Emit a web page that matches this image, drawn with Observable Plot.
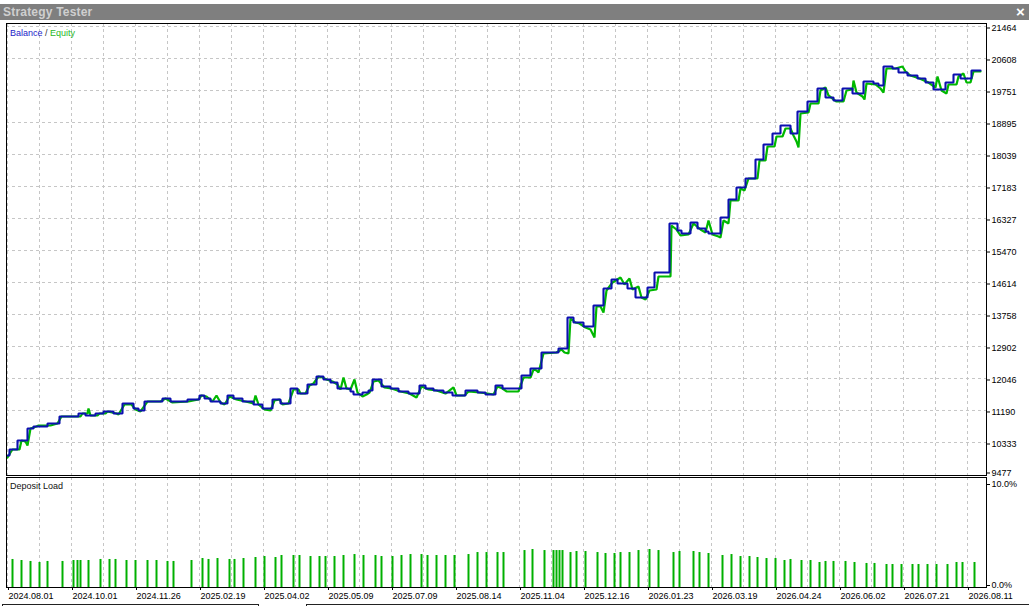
<!DOCTYPE html>
<html><head><meta charset="utf-8">
<script src="https://cdn.jsdelivr.net/npm/d3@7"></script>
<script src="https://cdn.jsdelivr.net/npm/@observablehq/plot@0.6"></script>
<style>
html,body{margin:0;padding:0;background:#fff;}
#wrap{position:relative;width:1029px;height:606px;overflow:hidden;font-family:"Liberation Sans",Arial,sans-serif;background:#fff;}
#titlebar{position:absolute;left:0;top:4px;width:1029px;height:16px;background:#7f7f7f;}
#titlebar .t{position:absolute;left:3px;top:0;font-weight:bold;font-size:12px;color:#cfcfcf;letter-spacing:0.2px;line-height:16px;}
#titlebar .x{position:absolute;left:1016px;top:-1px;color:#fff;font-weight:bold;font-size:15px;line-height:17px;}
#main{position:absolute;left:0;top:22px;}
#load{position:absolute;left:0;top:477px;}
.lbl{position:absolute;font-size:9px;line-height:10px;white-space:nowrap;}
.box{position:absolute;top:604px;height:6px;border:1px solid #222;border-bottom:none;}
</style>
</head><body>
<div id="wrap">
  <div id="titlebar"><span class="t">Strategy Tester</span><span class="x">×</span></div>
  <div id="main"></div>
  <div id="load"></div>
  <div class="lbl" style="left:10px;top:28px;"><span style="color:#2323c8">Balance</span><span style="color:#333"> / </span><span style="color:#1fb81f">Equity</span></div>
  <div class="lbl" style="left:10px;top:481px;color:#111;">Deposit Load</div>
  <div class="box" style="left:2px;width:255px;"></div>
  <div class="box" style="left:306px;width:730px;"></div>
</div>
<script>
// x = deal position index, y = account value
const yTicks = [9477, 10333, 11190, 12046, 12902, 13758, 14614, 15470, 16327, 17183, 18039, 18895, 19751, 20608, 21464];
const xTicks = [0, 32, 64, 96, 128, 160, 192, 224, 256, 288, 320, 352, 384, 416, 448, 480];
const xLabels = ["2024.08.01","2024.10.01","2024.11.26","2025.02.19","2025.04.02","2025.05.09","2025.07.09","2025.08.14","2025.11.04","2025.12.16","2026.01.23","2026.03.19","2026.04.24","2026.06.02","2026.07.21","2026.08.11"];
const gridX = [0,16,32,48,64,80,96,112,128,144,160,176,192,208,224,240,256,272,288,304,320,336,352,368,384,400,416,432,448,464,480];

const balance = [
[0,9985],[1,10146],[5,10387],[10,10708],[13,10761],[20,10842],[26,11029],[35.5,11109],[39,11056],[44,11109],
[48,11163],[53,11109],[57.5,11377],[63,11243],[65.5,11189],[68.5,11430],[77.5,11510],[81.5,11430],[90,11484],[96,11591],
[98.5,11510],[101.5,11430],[106.5,11377],[110,11591],[113,11510],[117.5,11430],[123,11350],[127.5,11243],[132.5,11484],[136.5,11377],
[141.5,11778],[145,11644],[150,11885],[154.5,12099],[158,12019],[161.5,11939],[165,11778],[171.5,11698],[173,11617],[177.5,11671],
[180.5,11725],[182.5,12019],[187,11832],[191.5,11778],[195.5,11698],[200.5,11644],[206,11858],[209,11778],[213,11725],[218,11671],
[222.5,11591],[229,11725],[235,11671],[239,11617],[244,11858],[247.5,11778],[257,12126],[261.5,12313],[267,12741],[275.5,12848],
[280,13678],[283,13544],[288,13437],[293,13999],[298,14454],[302,14694],[305,14587],[310,14454],[314,14213],[320,14480],
[323.5,14882],[331,16193],[335,16005],[337,15925],[341.5,16220],[345,16059],[349,15979],[350.5,15925],[356.5,16353],[360.5,16835],
[364.5,17156],[369,17397],[374,17905],[378,18306],[382.5,18601],[386.5,18815],[391.5,18601],[395,19189],[400,19457],[405,19805],
[409,19564],[413,19484],[417.5,19805],[422.5,19671],[428,19992],[433,19939],[435.5,19885],[438,20393],[442.5,20340],[445.5,20233],
[450,20153],[455,20072],[459,19965],[463,19778],[469,19965],[473,20179],[476.5,20072],[482,20286],[486.5,20286]
];

const equity = [
[0,9932],[1.5,10066],[2.5,10146],[6,10146],[7,10387],[9,10360],[10,10253],[11.5,10708],[14.5,10761],[15.5,10788],
[21.5,10788],[25,10842],[27,11029],[36.5,11029],[37.5,11109],[40,11109],[40.5,11243],[41.5,11056],[45,11056],[46,11109],
[49,11109],[50,11163],[54.5,11109],[55.5,11082],[58.5,11350],[62,11350],[64,11216],[66.5,11163],[70,11430],[76.5,11430],
[79,11510],[82.5,11403],[90.5,11430],[95.5,11484],[97,11591],[99.5,11564],[102.5,11430],[104.5,11591],[106.5,11403],[108.5,11350],
[111,11564],[114.5,11484],[119,11430],[123,11377],[124,11591],[125.5,11350],[128.5,11216],[131.5,11189],[133.5,11457],[136,11484],
[137.5,11350],[140.5,11377],[143,11751],[145.5,11751],[146.5,11644],[149,11644],[151,11858],[153,11912],[155.5,12099],[157.5,12072],
[159.5,12019],[162.5,11965],[165,11885],[166.5,11751],[168,12072],[169.5,11778],[171.5,11751],[173.5,12019],[175,11671],[177.5,11564],
[179.5,11617],[181,11671],[183,11965],[185.5,11992],[188.5,11805],[192,11778],[196.5,11698],[201,11644],[204.5,11537],[207,11832],
[210.5,11751],[214.5,11725],[219,11644],[223,11805],[224.5,11591],[228.5,11591],[230.5,11698],[236,11671],[240,11644],[243,11617],
[245,11832],[247.5,11778],[249.5,11698],[255.5,11698],[258,12072],[261.5,12072],[263,12286],[264.5,12260],[265.5,12206],[268,12714],
[274.5,12741],[277,12822],[278.5,12741],[280.5,12714],[281.5,13651],[284,13544],[286,13517],[289,13410],[291.5,13357],[293.5,13143],
[294.5,13972],[296.5,13972],[298,13812],[299.5,14400],[302.5,14614],[306.5,14748],[308.5,14561],[311,14721],[312.5,14427],[315.5,14507],
[317,14213],[319,14159],[321,14400],[324.5,14427],[325.5,14775],[329.5,14775],[331.5,14775],[332,16139],[334.5,16032],[336.5,15872],
[340.5,15898],[343,16193],[346.5,16032],[349,15952],[350.5,16273],[352.5,15898],[355.5,15845],[356.5,15818],[358,16273],[360.5,16193],
[361.5,16808],[365.5,16808],[366.5,17129],[368.5,17076],[370.5,17397],[375,17397],[376,17878],[379,17878],[380,18253],[383.5,18253],
[384.5,18521],[387.5,18521],[389,18735],[391.5,18735],[393,18547],[394.5,18387],[395.5,18226],[396.5,19136],[400.5,19163],[401.5,19404],
[405.5,19404],[406.5,19751],[409,19832],[410.5,19618],[412.5,19537],[414.5,19457],[418,19457],[419.5,19751],[422.5,19778],[423,20019],
[424.5,19698],[427.5,19591],[428.5,19511],[429.5,19939],[434,19912],[436.5,19805],[438,19698],[439.5,20340],[444,20340],[447.5,20393],
[449,20260],[451.5,20153],[456,20072],[460.5,19965],[464,19832],[465,20126],[467,19751],[469.5,19671],[470.5,19912],[474.5,19912],
[475.5,20126],[478,20206],[479.5,19965],[481.5,19965],[483,20260],[486.5,20260]
];

// deposit load, percent
const depositLoad = [
[2.5,2.67],[7,2.57],[11.5,2.48],[16,2.38],[20,2.48],[27.5,2.48],[33,2.57],[35,2.57],[36.5,2.57],[40.5,2.57],
[46.5,2.67],[51,2.67],[54,2.67],[59.5,2.57],[64,2.57],[70,2.57],[74.5,2.57],[80,2.48],[83,2.48],[92,2.57],
[97.5,2.76],[100.5,2.67],[105,2.76],[111,2.67],[113.5,2.67],[118,2.76],[124,2.86],[128.5,2.95],[134,2.86],[137,3.05],
[143,3.05],[146,3.05],[151.5,2.95],[156,2.95],[159,2.95],[163.5,2.95],[168,3.05],[173.5,3.14],[178,3.05],[184,3.05],
[187,2.95],[192.5,2.95],[197,3.05],[201.5,3.14],[207,3.14],[210,3.05],[214.5,3.05],[219,3.05],[223.5,3.05],[230.5,3.14],
[235,3.33],[239.5,3.33],[245,3.33],[248,3.33],[258.5,3.52],[262.5,3.62],[268.5,3.52],[273,3.52],[274.5,3.52],[276,3.52],
[277.5,3.52],[281.5,3.33],[284.5,3.43],[289,3.43],[295,3.33],[299,3.24],[303.5,3.24],[306.5,3.33],[311,3.33],[315.5,3.52],
[321,3.62],[325.5,3.52],[333,3.33],[336,3.43],[343,3.43],[346,3.33],[350.5,3.24],[357.5,3.05],[362,3.14],[366.5,2.95],
[371,2.95],[375,2.86],[379.5,2.76],[384,2.76],[388.5,2.57],[391.5,2.67],[397,2.57],[401.5,2.57],[406,2.38],[409,2.48],
[413,2.48],[419,2.48],[423.5,2.38],[429.5,2.29],[433.5,2.29],[439.5,2.19],[442.5,2.19],[447,2.19],[452.5,2.19],[455.5,2.19],
[460,2.19],[464.5,2.19],[470,2.19],[474.5,2.38],[477.5,2.38],[483.5,2.38]
];
const loadTicks = [0, 10];

const gridStyle = {stroke: "#c6c6c6", strokeDasharray: "3,3", strokeOpacity: 1};
const font = {fontFamily: "'Liberation Sans', Arial, sans-serif", fontSize: "9px", color: "#000", background: "transparent", overflow: "visible"};
const xDomain = [-0.5, 489.5];

const main = Plot.plot({
  width: 1029, height: 455,
  marginLeft: 6, marginRight: 43, marginTop: 1, marginBottom: 2,
  x: {domain: xDomain, axis: null},
  y: {domain: [9477, 21464], range: [452, 4], axis: null},
  style: font,
  marks: [
    Plot.ruleY(yTicks.slice(1), gridStyle),
    Plot.ruleX(gridX, gridStyle),
    Plot.line(equity, {x: d => d[0], y: d => d[1], stroke: "#00b800", strokeWidth: 2.2, strokeLinejoin: "miter"}),
    Plot.line(balance, {x: d => d[0], y: d => d[1], curve: "step-after", stroke: "#0c10b0", strokeWidth: 2.1, strokeLinejoin: "miter"}),
    Plot.frame({stroke: "#000"}),
    Plot.axisY(yTicks.slice(1), {anchor: "right", tickSize: 3, tickPadding: 2, tickFormat: d => String(d), dy: 1.5, fill: "#000", fontSize: 9}),
    Plot.axisY(yTicks.slice(0, 1), {anchor: "right", tickSize: 3, tickPadding: 2, tickFormat: d => String(d), dy: -1.5, fill: "#000", fontSize: 9})
  ]
});
document.getElementById("main").appendChild(main);

const labelOf = new Map(xTicks.map((t, i) => [t, xLabels[i]]));
const load = Plot.plot({
  width: 1029, height: 129,
  marginLeft: 6, marginRight: 43, marginTop: 0, marginBottom: 19,
  x: {domain: xDomain, axis: null},
  y: {domain: [0, 10], range: [110, 5], axis: null},
  style: font,
  marks: [
    Plot.ruleX(gridX, gridStyle),
    Plot.ruleX(depositLoad, {x: d => d[0], y1: 0, y2: d => d[1], stroke: "#00b000", strokeWidth: 2}),
    Plot.frame({stroke: "#000"}),
    Plot.axisX(xTicks, {anchor: "bottom", tickSize: 3, tickPadding: 2, tickFormat: d => labelOf.get(d), textAnchor: "start", dx: 1, fill: "#000", fontSize: 9}),
    Plot.axisY(loadTicks.slice(1), {anchor: "right", tickSize: 3, tickPadding: 2, tickFormat: d => d.toFixed(1) + "%", dy: 2, fill: "#000", fontSize: 9}),
    Plot.axisY(loadTicks.slice(0, 1), {anchor: "right", tickSize: 3, tickPadding: 2, tickFormat: d => d.toFixed(1) + "%", dy: -2, fill: "#000", fontSize: 9})
  ]
});
document.getElementById("load").appendChild(load);
</script>
</body></html>
